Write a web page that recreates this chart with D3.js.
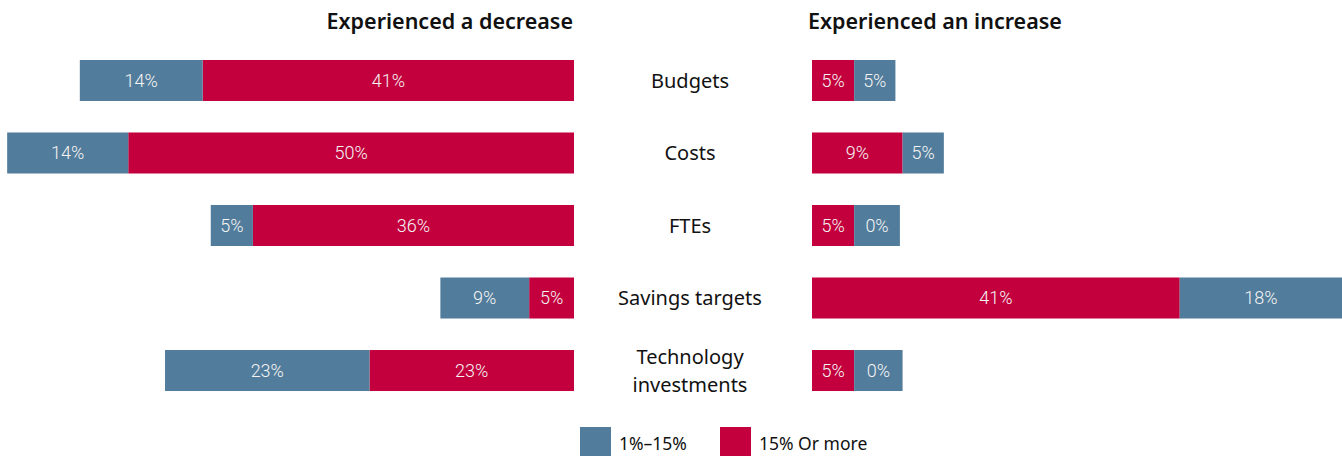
<!DOCTYPE html>
<html>
<head>
<meta charset="utf-8">
<script src="https://cdn.jsdelivr.net/npm/d3@7"></script>
<style>
  body { margin: 0; background: #fff; }
  svg { display: block; }
</style>
</head>
<body>
<div id="chart"></div>
<script>
// categories, top to bottom
var categories = ["Budgets", "Costs", "FTEs", "Savings targets", "Technology investments"]

// decrease side (bar lengths, labels as printed)
var decreaseLow = [13.7, 13.5, 4.7, 9.9, 22.8]
var decreaseHigh = [41.4, 49.7, 35.8, 5.0, 22.8]
var decreaseLowLabels = ["14%", "14%", "5%", "9%", "23%"]
var decreaseHighLabels = ["41%", "50%", "36%", "5%", "23%"]

// increase side
var increaseHigh = [4.7, 10.1, 4.7, 41.0, 4.7]
var increaseLow = [4.6, 4.6, 5.1, 18.5, 5.4]
var increaseHighLabels = ["5%", "9%", "5%", "41%", "5%"]
var increaseLowLabels = ["5%", "5%", "0%", "18%", "0%"]

var seriesNames = ["1%\u201315%", "15% Or more"]
var blue = "#527c9b", red = "#c3003d"

let svg_width = 1342
let svg_height = 456

var svg = d3.select("#chart")
    .append("svg")
    .attr("width", svg_width)
    .attr("height", svg_height)

var textFont = "'Noto Sans', sans-serif"
var numFont = "Roboto, sans-serif"

// scales
var xLeft = d3.scaleLinear().domain([0, 64]).range([574, 0])
var xRight = d3.scaleLinear().domain([0, 64]).range([812, 1386])

var y = d3.scaleBand()
    .domain(categories)
    .range([44.25, 406.75])
    .paddingInner(0.4345)
    .paddingOuter(0.217)

// titles
svg.append("text")
    .attr("x", 573)
    .attr("y", 29)
    .attr("text-anchor", "end")
    .style("font-family", textFont)
    .style("font-weight", "600")
    .style("font-size", "21.5px")
    .style("fill", "#111")
    .text("Experienced a decrease")

svg.append("text")
    .attr("x", 808)
    .attr("y", 29)
    .style("font-family", textFont)
    .style("font-weight", "600")
    .style("font-size", "21.5px")
    .style("fill", "#111")
    .text("Experienced an increase")

// build segment rows
var segs = []
categories.forEach(function(c, i) {
    segs.push({ cat: c, x0: xLeft(0), x1: xLeft(decreaseHigh[i]), color: red, label: decreaseHighLabels[i] })
    segs.push({ cat: c, x0: xLeft(decreaseHigh[i]), x1: xLeft(decreaseHigh[i] + decreaseLow[i]), color: blue, label: decreaseLowLabels[i] })
    segs.push({ cat: c, x0: xRight(0), x1: xRight(increaseHigh[i]), color: red, label: increaseHighLabels[i] })
    segs.push({ cat: c, x0: xRight(increaseHigh[i]), x1: xRight(increaseHigh[i] + increaseLow[i]), color: blue, label: increaseLowLabels[i] })
})

svg.append("g").selectAll("rect").data(segs)
    .enter().append("rect")
    .attr("x", d => Math.min(d.x0, d.x1))
    .attr("width", d => Math.abs(d.x1 - d.x0))
    .attr("y", d => y(d.cat))
    .attr("height", y.bandwidth())
    .style("fill", d => d.color)

svg.append("g").selectAll("text").data(segs)
    .enter().append("text")
    .attr("x", d => (Math.min(d.x0, d.x1) + Math.min(Math.max(d.x0, d.x1), svg_width)) / 2)
    .attr("y", d => y(d.cat) + y.bandwidth() / 2)
    .attr("dy", "0.36em")
    .attr("text-anchor", "middle")
    .style("font-family", numFont)
    .style("font-weight", "300")
    .style("font-size", "18px")
    .style("fill", "#f4f4f4")
    .text(d => d.label)

// category labels in the middle
var catLabels = svg.append("g").selectAll("text").data(categories)
    .enter().append("text")
    .attr("x", 690)
    .attr("y", d => y(d) + y.bandwidth() / 2)
    .attr("text-anchor", "middle")
    .style("font-family", textFont)
    .style("font-size", "20px")
    .style("fill", "#111")

catLabels.each(function(d) {
    var words = d === "Technology investments" ? ["Technology", "investments"] : [d]
    var el = d3.select(this)
    words.forEach(function(w, k) {
        el.append("tspan")
            .attr("x", 690)
            .attr("dy", k === 0 ? (0.36 - (words.length - 1) * 0.7) + "em" : "1.4em")
            .text(w)
    })
})

// legend
var legend = svg.append("g")
var legendX = [580, 720]
var legendColors = [blue, red]
seriesNames.forEach(function(name, i) {
    legend.append("rect")
        .attr("x", legendX[i])
        .attr("y", 427)
        .attr("width", 31)
        .attr("height", 31)
        .style("fill", legendColors[i])
    legend.append("text")
        .attr("x", legendX[i] + 39)
        .attr("y", 450)
        .style("font-family", textFont)
        .style("font-size", "17.5px")
        .style("fill", "#111")
        .text(name)
})
</script>
</body>
</html>
